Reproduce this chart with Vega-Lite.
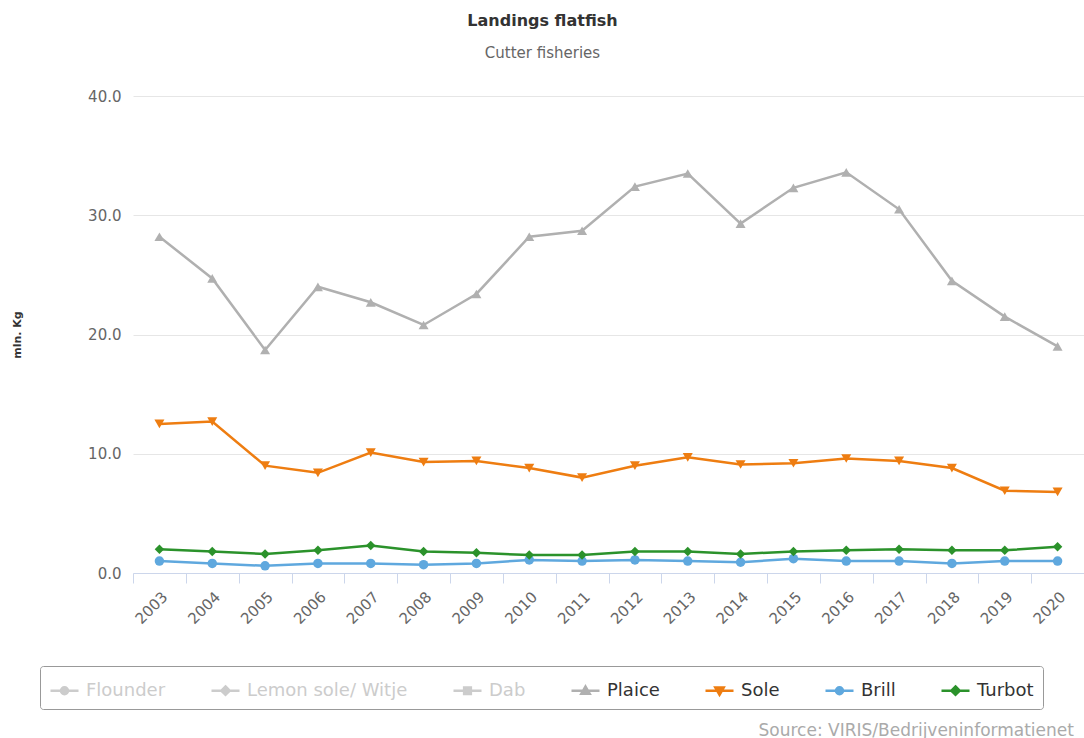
{
  "$schema": "https://vega.github.io/schema/vega-lite/v6.json",
  "width": 951,
  "height": 477,
  "autosize": {"type": "none"},
  "padding": {"left": 133, "top": 96, "right": 0, "bottom": 165},
  "background": "#ffffff",
  "config": {
    "font": "DejaVu Sans",
    "view": {"stroke": null}
  },
  "title": {
    "text": "Landings flatfish",
    "subtitle": "Cutter fisheries",
    "anchor": "middle",
    "dx": -66,
    "fontSize": 16,
    "fontWeight": "bold",
    "color": "#333333",
    "subtitleFontSize": 15,
    "subtitleColor": "#666666",
    "subtitlePadding": 17,
    "offset": 28
  },
  "data": {
    "values": [
      {"year": "2003", "species": "Plaice", "value": 28.2},
      {"year": "2004", "species": "Plaice", "value": 24.7},
      {"year": "2005", "species": "Plaice", "value": 18.7},
      {"year": "2006", "species": "Plaice", "value": 24.0},
      {"year": "2007", "species": "Plaice", "value": 22.7},
      {"year": "2008", "species": "Plaice", "value": 20.8},
      {"year": "2009", "species": "Plaice", "value": 23.4},
      {"year": "2010", "species": "Plaice", "value": 28.2},
      {"year": "2011", "species": "Plaice", "value": 28.7},
      {"year": "2012", "species": "Plaice", "value": 32.4},
      {"year": "2013", "species": "Plaice", "value": 33.5},
      {"year": "2014", "species": "Plaice", "value": 29.3},
      {"year": "2015", "species": "Plaice", "value": 32.3},
      {"year": "2016", "species": "Plaice", "value": 33.6},
      {"year": "2017", "species": "Plaice", "value": 30.5},
      {"year": "2018", "species": "Plaice", "value": 24.5},
      {"year": "2019", "species": "Plaice", "value": 21.5},
      {"year": "2020", "species": "Plaice", "value": 19.0},
      {"year": "2003", "species": "Sole", "value": 12.5},
      {"year": "2004", "species": "Sole", "value": 12.7},
      {"year": "2005", "species": "Sole", "value": 9.0},
      {"year": "2006", "species": "Sole", "value": 8.4},
      {"year": "2007", "species": "Sole", "value": 10.1},
      {"year": "2008", "species": "Sole", "value": 9.3},
      {"year": "2009", "species": "Sole", "value": 9.4},
      {"year": "2010", "species": "Sole", "value": 8.8},
      {"year": "2011", "species": "Sole", "value": 8.0},
      {"year": "2012", "species": "Sole", "value": 9.0},
      {"year": "2013", "species": "Sole", "value": 9.7},
      {"year": "2014", "species": "Sole", "value": 9.1},
      {"year": "2015", "species": "Sole", "value": 9.2},
      {"year": "2016", "species": "Sole", "value": 9.6},
      {"year": "2017", "species": "Sole", "value": 9.4},
      {"year": "2018", "species": "Sole", "value": 8.8},
      {"year": "2019", "species": "Sole", "value": 6.9},
      {"year": "2020", "species": "Sole", "value": 6.8},
      {"year": "2003", "species": "Brill", "value": 1.0},
      {"year": "2004", "species": "Brill", "value": 0.8},
      {"year": "2005", "species": "Brill", "value": 0.6},
      {"year": "2006", "species": "Brill", "value": 0.8},
      {"year": "2007", "species": "Brill", "value": 0.8},
      {"year": "2008", "species": "Brill", "value": 0.7},
      {"year": "2009", "species": "Brill", "value": 0.8},
      {"year": "2010", "species": "Brill", "value": 1.1},
      {"year": "2011", "species": "Brill", "value": 1.0},
      {"year": "2012", "species": "Brill", "value": 1.1},
      {"year": "2013", "species": "Brill", "value": 1.0},
      {"year": "2014", "species": "Brill", "value": 0.9},
      {"year": "2015", "species": "Brill", "value": 1.2},
      {"year": "2016", "species": "Brill", "value": 1.0},
      {"year": "2017", "species": "Brill", "value": 1.0},
      {"year": "2018", "species": "Brill", "value": 0.8},
      {"year": "2019", "species": "Brill", "value": 1.0},
      {"year": "2020", "species": "Brill", "value": 1.0},
      {"year": "2003", "species": "Turbot", "value": 2.0},
      {"year": "2004", "species": "Turbot", "value": 1.8},
      {"year": "2005", "species": "Turbot", "value": 1.6},
      {"year": "2006", "species": "Turbot", "value": 1.9},
      {"year": "2007", "species": "Turbot", "value": 2.3},
      {"year": "2008", "species": "Turbot", "value": 1.8},
      {"year": "2009", "species": "Turbot", "value": 1.7},
      {"year": "2010", "species": "Turbot", "value": 1.5},
      {"year": "2011", "species": "Turbot", "value": 1.5},
      {"year": "2012", "species": "Turbot", "value": 1.8},
      {"year": "2013", "species": "Turbot", "value": 1.8},
      {"year": "2014", "species": "Turbot", "value": 1.6},
      {"year": "2015", "species": "Turbot", "value": 1.8},
      {"year": "2016", "species": "Turbot", "value": 1.9},
      {"year": "2017", "species": "Turbot", "value": 2.0},
      {"year": "2018", "species": "Turbot", "value": 1.9},
      {"year": "2019", "species": "Turbot", "value": 1.9},
      {"year": "2020", "species": "Turbot", "value": 2.2}
    ]
  },
  "encoding": {
    "x": {
      "field": "year",
      "type": "ordinal",
      "scale": {"paddingInner": 0, "paddingOuter": 0},
      "axis": {
        "title": "Source: VIRIS/Bedrijveninformatienet",
        "titleX": 625,
        "titleY": 157,
        "titleAlign": "left",
        "titleAnchor": null,
        "titleBaseline": "middle",
        "titleFontSize": 17,
        "titleFontWeight": "normal",
        "titleColor": "#aaaaaa",
        "labelAngle": -45,
        "labelFontSize": 15,
        "labelColor": "#666666",
        "labelPadding": 6,
        "tickBand": "extent",
        "tickSize": 10,
        "tickColor": "#ccd6eb",
        "domainColor": "#ccd6eb",
        "grid": false
      }
    },
    "y": {
      "field": "value",
      "type": "quantitative",
      "scale": {"domain": [0, 40], "nice": false},
      "axis": {
        "title": "mln. Kg",
        "titleFontSize": 11,
        "titleFontWeight": "bold",
        "titleColor": "#333333",
        "titlePadding": 65,
        "values": [0, 10, 20, 30, 40],
        "format": ".1f",
        "labelFontSize": 15,
        "labelColor": "#666666",
        "labelPadding": 12,
        "ticks": false,
        "domain": false,
        "gridColor": "#e6e6e6"
      }
    },
    "color": {
      "field": "species",
      "type": "nominal",
      "scale": {
        "domain": ["Flounder", "Lemon sole/ Witje", "Dab", "Plaice", "Sole", "Brill", "Turbot"],
        "range": ["#cccccc", "#cccccc", "#cccccc", "#b0b0b0", "#ee7d11", "#5fa8de", "#2b922b"]
      },
      "legend": {
        "title": null,
        "orient": "none",
        "legendX": -93,
        "legendY": 570,
        "direction": "horizontal",
        "strokeColor": "#999999",
        "cornerRadius": 3,
        "padding": 9,
        "labelFontSize": 18,
        "labelColor": "#333333",
        "labelOffset": 6,
        "symbolSize": 784,
        "symbolStrokeWidth": 2.5,
        "columnPadding": 40,
        "labelLimit": 300,
        "encode": {
          "labels": {
            "update": {
              "fill": {"signal": "indexof(['Flounder','Lemon sole/ Witje','Dab'], datum.value) >= 0 ? '#cccccc' : '#333333'"}
            }
          },
          "symbols": {
            "update": {
              "shape": {"signal": "datum.value === 'Plaice' ? 'M-1,0L1,0M0,-0.3L0.3,0.22L-0.3,0.22Z' : datum.value === 'Sole' ? 'M-1,0L1,0M0,0.3L0.3,-0.22L-0.3,-0.22Z' : (datum.value === 'Dab') ? 'M-1,0L1,0M-0.24,-0.24L0.24,-0.24L0.24,0.24L-0.24,0.24Z' : (datum.value === 'Turbot' || datum.value === 'Lemon sole/ Witje') ? 'M-1,0L1,0M0,-0.3L0.3,0L0,0.3L-0.3,0Z' : 'M-1,0L1,0M-0.25,0A0.25,0.25 0 1,0 0.25,0A0.25,0.25 0 1,0 -0.25,0Z'"},
              "fill": {"signal": "scale('color', datum.value)"},
              "stroke": {"signal": "scale('color', datum.value)"},
              "strokeWidth": {"value": 2.5},
              "opacity": {"value": 1}
            }
          }
        }
      }
    }
  },
  "layer": [
    {
      "mark": {"type": "line", "strokeWidth": 2.5}
    },
    {
      "transform": [{"filter": "datum.species === 'Plaice'"}],
      "mark": {"type": "point", "filled": true, "size": 100, "opacity": 1, "shape": "triangle-up"}
    },
    {
      "transform": [{"filter": "datum.species === 'Sole'"}],
      "mark": {"type": "point", "filled": true, "size": 100, "opacity": 1, "shape": "triangle-down"}
    },
    {
      "transform": [{"filter": "datum.species === 'Brill'"}],
      "mark": {"type": "point", "filled": true, "size": 90, "opacity": 1, "shape": "circle"}
    },
    {
      "transform": [{"filter": "datum.species === 'Turbot'"}],
      "mark": {"type": "point", "filled": true, "size": 90, "opacity": 1, "shape": "diamond"}
    }
  ]
}
